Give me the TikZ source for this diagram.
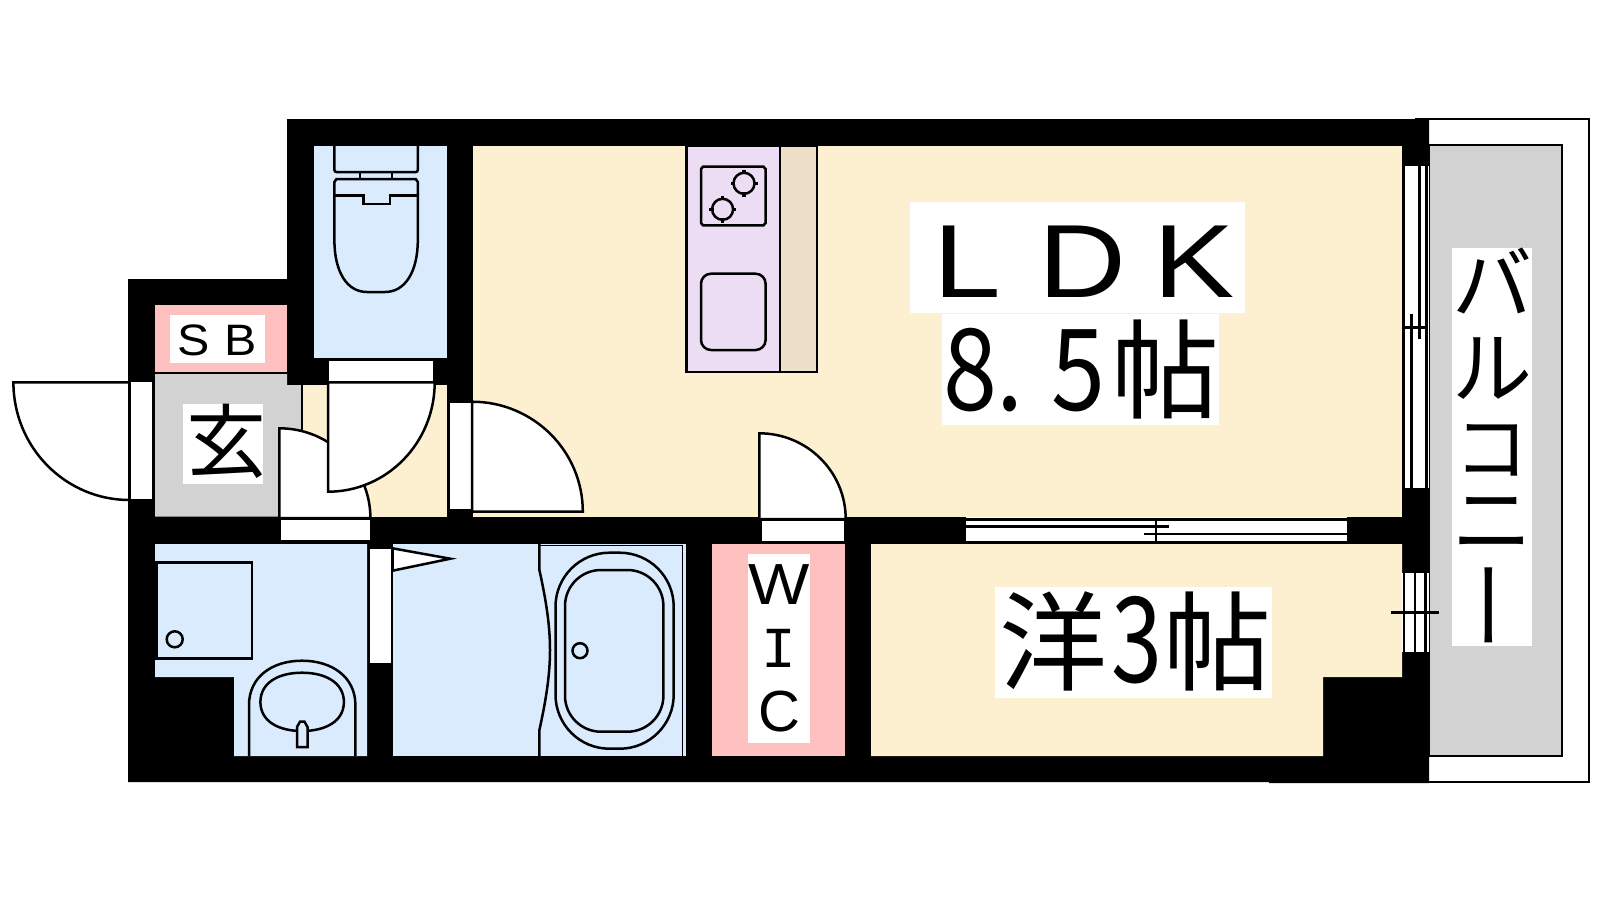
\documentclass[tikz,border=0pt]{standalone}
\usepackage{fontspec}
\setmainfont{Liberation Sans}
\newfontfamily\cjk{Noto Sans CJK JP}
\newfontfamily\monof{Liberation Mono}
\definecolor{wet}{HTML}{DAEBFE}
\definecolor{cream}{HTML}{FDF0D0}
\definecolor{pinkroom}{HTML}{FFC0C0}
\definecolor{grayroom}{HTML}{D2D2D2}
\definecolor{kitchen}{HTML}{ECDDF5}
\definecolor{counter}{HTML}{EDDFC8}
\tikzset{
  ln/.style={draw=black,line width=1.25pt,line join=miter},
  wh/.style={fill=white,ln},
  lab/.style={inner sep=0pt,outer sep=0pt,anchor=base west,text=black},
  lbc/.style={inner sep=0pt,outer sep=0pt,anchor=base,text=black},
}
\newcommand{\fs}[1]{\fontsize{#1}{#1}\selectfont}
\begin{document}
\begin{tikzpicture}[x=0.5pt,y=-0.5pt]
\useasboundingbox (0,0) rectangle (1600,900);
% balcony
\draw[ln,fill=white] (1415,119) -- (1589,119) -- (1589,782) -- (1429,782);
\draw[ln,fill=grayroom] (1429,145) -- (1562,145) -- (1562,756) -- (1429,756) -- cycle;
% walls
\fill[black] (128,279) -- (287,279) -- (287,119) -- (1429,119) -- (1429,783) -- (1269,783) -- (1269,782) -- (128,782) -- cycle;
% rooms
\fill[pinkroom] (155,305) rectangle (287,371.5);
\fill[grayroom] (155,373) -- (287,373) -- (287,385) -- (302,385) -- (302,516.7) -- (155,516.7) -- cycle;
\draw[ln] (155,373) -- (287,373);
\fill[wet] (314,146) rectangle (447,358);
\fill[cream] (302,385) rectangle (447,516.7);
\draw[ln] (302,385) -- (302,435);
\fill[cream] (473,146) rectangle (1402,516.7);
\fill[wet] (155,544) -- (367,544) -- (367,756) -- (234,756) -- (234,677) -- (155,677) -- cycle;
\fill[wet] (393,544) rectangle (685.5,756);
\fill[pinkroom] (712,544) rectangle (845,756);
\fill[cream] (871,544) -- (1402,544) -- (1402,677) -- (1323,677) -- (1323,756) -- (871,756) -- cycle;
% kitchen
\filldraw[ln,fill=kitchen] (686.5,146) rectangle (780,372);
\filldraw[ln,fill=counter] (780,146) rectangle (817,372);
\draw[ln] (703,166.7) -- (763.5,166.7) -- (765.6,169) -- (765.6,223) -- (763.5,225.3) -- (703,225.3) -- (701,223) -- (701,169) -- cycle;
\foreach \cx/\cy in {744/183.3,722.6/209.3}{
  \draw[ln] (\cx,\cy) circle[radius=10.5];
  \draw[line width=1.6pt] (\cx-13.5,\cy) -- (\cx-9,\cy) (\cx+9,\cy) -- (\cx+13.5,\cy) (\cx,\cy-13.5) -- (\cx,\cy-9) (\cx,\cy+9) -- (\cx,\cy+13.5);
}
\draw[ln,rounded corners=5pt] (701,273.7) rectangle (765.6,350);
% toilet
\draw[ln,fill=wet,rounded corners=1pt] (334.4,146) -- (334.4,172) -- (417.8,172) -- (417.8,146);
\draw[ln] (360,172) -- (360,179) (392,172) -- (392,179);
\draw[ln] (334.4,182) -- (336.5,179) -- (415.7,179) -- (417.8,182) -- (417.8,240)
  .. controls (417.8,272) and (405,292) .. (385,292) -- (367,292)
  .. controls (347,292) and (334.4,272) .. (334.4,240) -- cycle;
\draw[ln] (334.4,195.7) -- (363.7,195.7) -- (363.7,204) -- (390,204) -- (390,195.7) -- (417.8,195.7);
% wash room
\draw[ln] (155,562.3) -- (252,562.3) -- (252,658.3) -- (155,658.3);
\draw[ln] (156.4,562.3) -- (156.4,658.3);
\draw[ln] (174.7,639.3) circle[radius=8];
\draw[ln] (249,756) -- (249,705) .. controls (249,677) and (272,660.7) .. (302,660.7) .. controls (332,660.7) and (355.4,677) .. (355.4,705) -- (355.4,756);
\draw[ln] (260.4,702) .. controls (260.4,683) and (278,672.7) .. (302,672.7) .. controls (326,672.7) and (343.9,683) .. (343.9,702) .. controls (343.9,721) and (326,731) .. (302,731) .. controls (278,731) and (260.4,721) .. (260.4,702) -- cycle;
\draw[ln,fill=wet] (297,747) -- (297,727) -- (300,721.7) -- (304.5,721.7) -- (307.5,727) -- (307.5,747) -- cycle;
% bath
\draw[ln] (539.4,544) -- (539.4,570) .. controls (546,600) and (550,625) .. (550,650) .. controls (550,675) and (546,700) .. (539.4,730) -- (539.4,756);
\draw[line width=0.8pt] (539.4,545.5) -- (682.5,545.5) -- (682.5,756);
\draw[ln,rounded corners=27pt] (555.5,552.7) rectangle (673.7,748.7);
\draw[ln,rounded corners=18pt] (565,570) rectangle (663.4,731.7);
\draw[ln] (580,650.7) circle[radius=7.5];
\fill[white] (369,548) rectangle (392,662.7);
\draw[ln] (369,548) -- (369,662.7) (391.8,548) -- (391.8,662.7) (369,548) -- (391.8,548);
\draw[wh] (392.5,548.3) -- (450.3,558.7) -- (392.5,570.7) -- cycle;
% entrance door
\fill[white] (129.4,382.3) rectangle (153,499);
\draw[ln] (129.4,382.3) -- (129.4,499) (153,382.3) -- (153,499);
\draw[wh] (129.4,382.3) -- (13.4,382.3) arc[start angle=180,end angle=270,x radius=116,y radius=-117.7] -- cycle;
% washroom door
\draw[wh] (279.4,518) -- (279.4,428.3) arc[start angle=90,end angle=0,x radius=91,y radius=-89.7] -- cycle;
\fill[white] (280.5,520) rectangle (369.5,541.7);
\draw[ln] (280.5,541.7) -- (369.5,541.7);
% toilet door
\filldraw[wh] (328,359.3) rectangle (434.7,382.3);
\draw[wh] (328,382.3) -- (434.7,382.3) arc[start angle=0,end angle=-90,x radius=106.7,y radius=-109.4] -- cycle;
% LDK door
\filldraw[wh] (448.5,401.7) rectangle (472,510.7);
\draw[wh] (472,511.7) -- (472,401.7) arc[start angle=90,end angle=0,x radius=110.8,y radius=-110] -- cycle;
% WIC door
\draw[wh] (759.3,519) -- (759.3,433.3) arc[start angle=90,end angle=0,x radius=86.4,y radius=-85.7] -- cycle;
\filldraw[fill=white,ln] (760.3,519.7) rectangle (845,542);
% south room window
\fill[white] (965.6,516.7) rectangle (1347,543.3);
\draw[ln] (965.6,519.3) -- (1347,519.3) (965.6,526.7) -- (1169,526.7) (1144,534) -- (1347,534) (965.6,542) -- (1347,542) (1156,519.3) -- (1156,542);
% LDK window
\fill[white] (1402.3,166) rectangle (1429,487.7);
\draw[ln] (1403.3,166) -- (1403.3,487.7) (1411.7,314) -- (1411.7,487.7) (1419.3,166) -- (1419.3,339) (1426.7,166) -- (1426.7,487.7) (1403.3,327.3) -- (1426.7,327.3);
% room window
\fill[white] (1402.3,573.3) rectangle (1429,652.3);
\draw[ln] (1404,573.3) -- (1404,652.3) (1415,573.3) -- (1415,652.3) (1425.6,573.3) -- (1425.6,652.3) (1391,612.3) -- (1439.4,612.3);
% labels
\fill[white] (910,202) rectangle (1245,313);
\fill[white] (942,314) rectangle (1219,425);
\node[lab] (ldk) at (933,297) {\scalebox{1.17}[1]{\fs{52}L\hspace{16pt}D\hspace{12pt}K}};
\node[lab] (area) at (943,410) {\cjk\fs{54}\scalebox{0.9}[1.05]{8.}\hspace{14pt}\scalebox{0.9}[1.05]{5}\hspace{3pt}帖};
\fill[white] (994.6,587) rectangle (1271.5,697.7);
\node[lab] (west) at (999,682) {\cjk\fs{54}洋\hspace{2pt}\scalebox{0.85}[1.1]{3}\hspace{1pt}帖};
\fill[white] (170,315) rectangle (265,363);
\node[lab] (sb) at (177,355) {\scalebox{1.1}[1]{\fs{22}S\hspace{7pt}B}};
\fill[white] (183,404) rectangle (263,483.7);
\node[lab] (gen) at (186,471) {\cjk\fs{40}玄};
\fill[white] (748,554) rectangle (810,743);
\node[lbc] (w) at (779,604) {\scalebox{1.12}[1]{\fs{29}W}};
\node[lbc] (i) at (779,667) {\monof\fs{29}I};
\node[lbc] (c) at (779,731) {\fs{29}C};
\fill[white] (1452,248) rectangle (1532,646);
\node[inner sep=0pt] (b1) at (1492,281) {\cjk\fs{40}バ};
\node[inner sep=0pt] (b2) at (1492,368) {\cjk\fs{40}ル};
\node[inner sep=0pt] (b3) at (1492,450) {\scalebox{0.93}{\cjk\fs{40}コ}};
\node[inner sep=0pt] (b4) at (1492,523) {\cjk\fs{40}ニ};
\node[inner sep=0pt,rotate=90] (b5) at (1502,605) {\scalebox{1.18}[1]{\cjk\fs{40}ー}};
\end{tikzpicture}
\end{document}
